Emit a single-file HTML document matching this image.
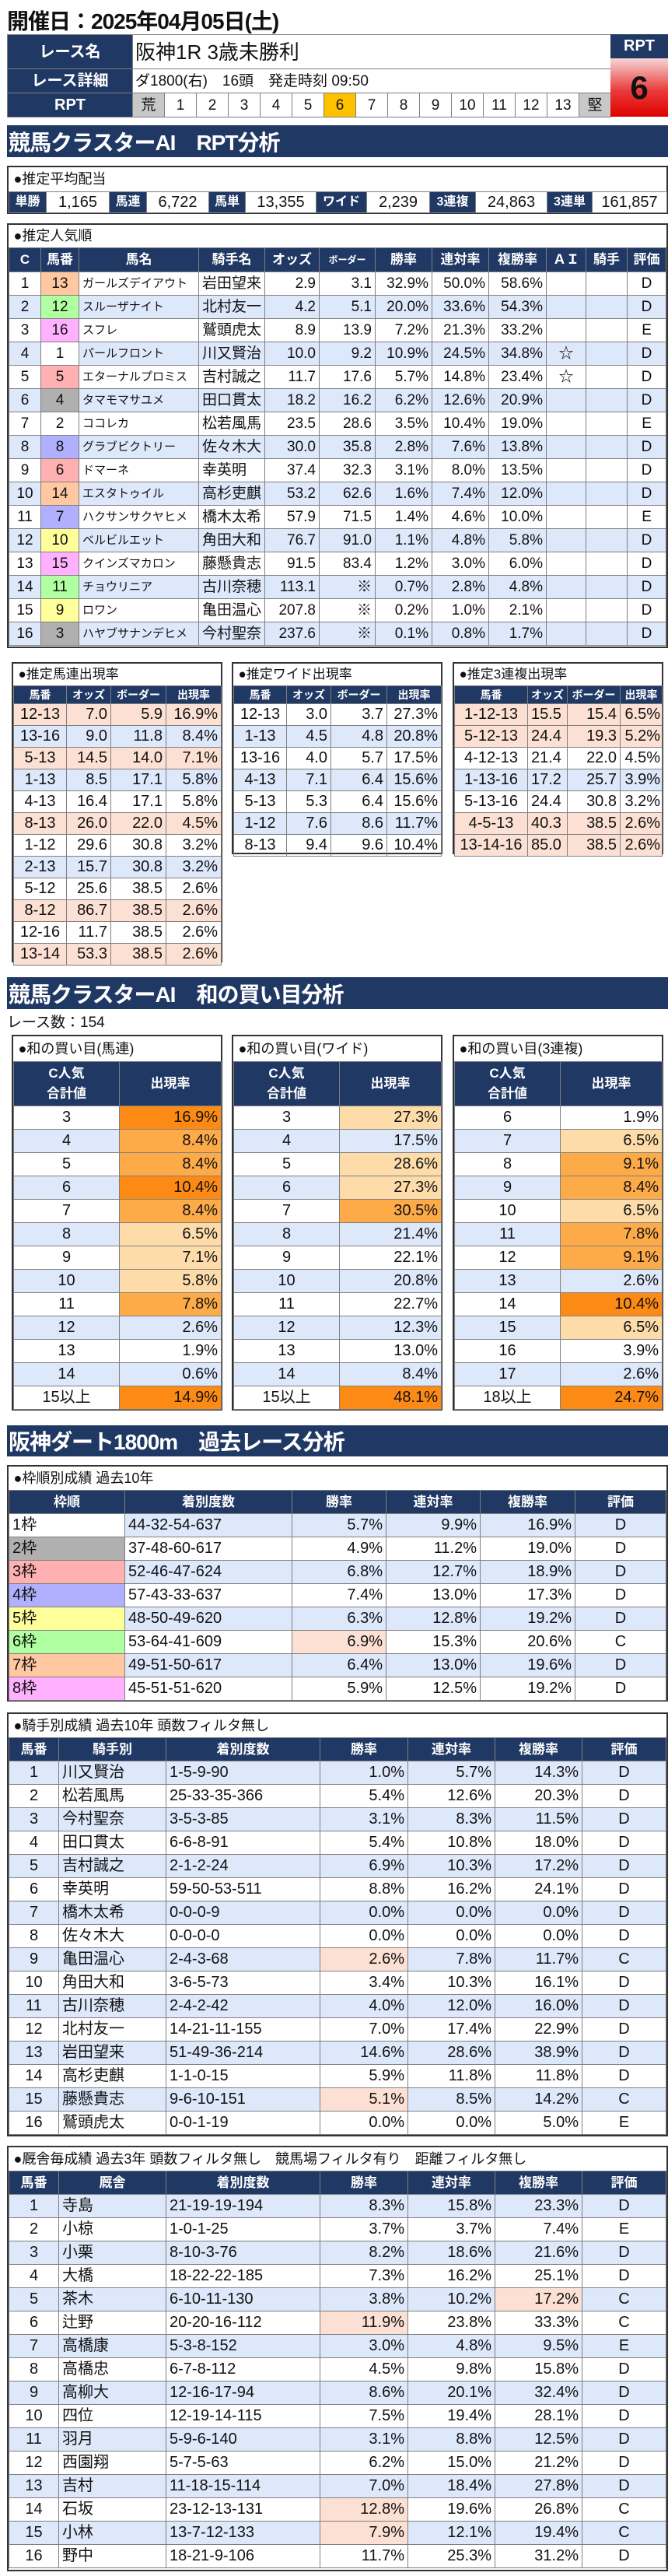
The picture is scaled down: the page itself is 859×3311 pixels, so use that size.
<!DOCTYPE html>
<html><head><meta charset="utf-8">
<style>
*{box-sizing:border-box}
body{margin:0;width:859px;height:3311px;position:relative;background:#fff;font-family:"Liberation Sans","Noto Sans CJK JP",sans-serif;color:#111;overflow:hidden}
.abs{position:absolute}
.box{position:absolute;border:2px solid #333;background:#fff}
table{border-collapse:collapse;width:100%;table-layout:fixed}
td{border:1px solid #7f7f7f;padding:0 4px;font-size:19px;white-space:nowrap;overflow:hidden;line-height:1}
.h td,td.h{background:#203864;color:#fff;font-weight:bold;text-align:center;font-size:16px}
.r{text-align:right}.c{text-align:center}.l{text-align:left}
.b td{background:#dde8fb}
.t td{border:none;border-bottom:1px solid #7f7f7f;font-size:18px;padding-left:6px}
td.p,.b td.p{background:#fce0d4}
tr.p td{background:#fce0d4}
.bar{position:absolute;left:9px;width:850px;background:#203864;color:#fff;font-weight:bold;font-size:28px;letter-spacing:-1px;padding-left:2px;display:flex;align-items:center}
.f1{background:#fff!important}.f2{background:#b0b0b0!important}.f3{background:#ffb0b0!important}.f4{background:#b0b0ff!important}
.f5{background:#ffff99!important}.f6{background:#b0ffa0!important}.f7{background:#ffc8a0!important}.f8{background:#ffb0ff!important}
.o1{background:#fd8a14!important}.o2{background:#fdaa48!important}.o3{background:#fddcaa!important}
.pop td{height:30px}
.mini td{height:28px;font-size:20px}
.mini .h td{font-size:14px;height:23px}
.mini .t td{font-size:17px}
.buy td{height:30px;font-size:20px}
.big td{height:30px;font-size:20px}
.buy .t td,.big .t td{font-size:18px}
</style></head><body>

<div class="abs" style="left:9px;top:6px;font-size:28px;font-weight:bold;letter-spacing:-1px">開催日：2025年04月05日(土)</div>

<div class="abs" style="left:9px;top:44px;width:776px">
<table style="height:106px">
<colgroup><col style="width:161px"><col span="15" style="width:41px"></colgroup>
<tr style="height:44px"><td class="h" style="font-size:20px">レース名</td><td colspan="15" style="font-size:26px;padding-left:3px">阪神1R 3歳未勝利</td></tr>
<tr style="height:31px"><td class="h" style="font-size:20px">レース詳細</td><td colspan="15" style="font-size:19px;padding-left:3px">ダ1800(右)　16頭　発走時刻 09:50</td></tr>
<tr style="height:31px"><td class="h" style="font-size:20px">RPT</td>
<td class="c" style="background:#c8c8c8">荒</td><td class="c">1</td><td class="c">2</td><td class="c">3</td><td class="c">4</td><td class="c">5</td><td class="c" style="background:#ffc000">6</td><td class="c">7</td><td class="c">8</td><td class="c">9</td><td class="c">10</td><td class="c">11</td><td class="c">12</td><td class="c">13</td><td class="c" style="background:#c8c8c8">堅</td></tr>
</table></div>
<div class="abs" style="left:785px;top:44px;width:74px;height:31px;background:#203864;color:#fff;font-weight:bold;font-size:20px;text-align:center;line-height:31px">RPT</div>
<div class="abs" style="left:785px;top:75px;width:74px;height:75px;background:linear-gradient(#f6d6d6,#ea3b3b 55%,#e00000);font-weight:bold;font-size:42px;text-align:center;line-height:75px">6</div>

<div class="bar" style="top:161px;height:41px">競馬クラスターAI　RPT分析</div>

<div class="box" style="left:9px;top:213px;width:850px;height:62px">
<table>
<colgroup><col style="width:48px"><col style="width:81px"><col style="width:48px"><col style="width:80px"><col style="width:47px"><col style="width:91px"><col style="width:65px"><col style="width:81px"><col style="width:59px"><col style="width:92px"><col style="width:58px"><col style="width:96px"></colgroup>
<tr class="t"><td colspan="12" style="height:31px">●推定平均配当</td></tr>
<tr style="height:27px"><td class="h">単勝</td><td class="c" style="font-size:20px">1,165</td><td class="h">馬連</td><td class="c" style="font-size:20px">6,722</td><td class="h">馬単</td><td class="c" style="font-size:20px">13,355</td><td class="h">ワイド</td><td class="c" style="font-size:20px">2,239</td><td class="h">3連複</td><td class="c" style="font-size:20px">24,863</td><td class="h">3連単</td><td class="c" style="font-size:20px">161,857</td></tr>
</table></div>

<div class="box pop" style="left:9px;top:287px;width:850px;height:546px">
<table>
<colgroup><col style="width:41px"><col style="width:49px"><col style="width:154px"><col style="width:85px"><col style="width:70px"><col style="width:72px"><col style="width:73px"><col style="width:73px"><col style="width:74px"><col style="width:51px"><col style="width:53px"><col style="width:50px"></colgroup>
<tr class="t"><td colspan="12" style="height:29px">●推定人気順</td></tr>
<tr class="h"><td style="height:31px;font-size:17px">C</td><td style="font-size:17px">馬番</td><td style="font-size:17px">馬名</td><td style="font-size:17px">騎手名</td><td style="font-size:17px">オッズ</td><td style="font-size:12px">ボーダー</td><td style="font-size:17px">勝率</td><td style="font-size:17px">連対率</td><td style="font-size:17px">複勝率</td><td style="font-size:17px">ＡＩ</td><td style="font-size:17px">騎手</td><td style="font-size:17px">評価</td></tr>
<tr><td class="c">1</td><td class="c f7">13</td><td style="font-size:15px">ガールズデイアウト</td><td>岩田望来</td><td class="r">2.9</td><td class="r">3.1</td><td class="r">32.9%</td><td class="r">50.0%</td><td class="r">58.6%</td><td></td><td></td><td class="c">D</td></tr>
<tr class="b"><td class="c">2</td><td class="c f6">12</td><td style="font-size:15px">スルーザナイト</td><td>北村友一</td><td class="r">4.2</td><td class="r">5.1</td><td class="r">20.0%</td><td class="r">33.6%</td><td class="r">54.3%</td><td></td><td></td><td class="c">D</td></tr>
<tr><td class="c">3</td><td class="c f8">16</td><td style="font-size:15px">スフレ</td><td>鷲頭虎太</td><td class="r">8.9</td><td class="r">13.9</td><td class="r">7.2%</td><td class="r">21.3%</td><td class="r">33.2%</td><td></td><td></td><td class="c">E</td></tr>
<tr class="b"><td class="c">4</td><td class="c f1">1</td><td style="font-size:15px">パールフロント</td><td>川又賢治</td><td class="r">10.0</td><td class="r">9.2</td><td class="r">10.9%</td><td class="r">24.5%</td><td class="r">34.8%</td><td class="c">☆</td><td></td><td class="c">D</td></tr>
<tr><td class="c">5</td><td class="c f3">5</td><td style="font-size:15px">エターナルプロミス</td><td>吉村誠之</td><td class="r">11.7</td><td class="r">17.6</td><td class="r">5.7%</td><td class="r">14.8%</td><td class="r">23.4%</td><td class="c">☆</td><td></td><td class="c">D</td></tr>
<tr class="b"><td class="c">6</td><td class="c f2">4</td><td style="font-size:15px">タマモマサユメ</td><td>田口貫太</td><td class="r">18.2</td><td class="r">16.2</td><td class="r">6.2%</td><td class="r">12.6%</td><td class="r">20.9%</td><td></td><td></td><td class="c">D</td></tr>
<tr><td class="c">7</td><td class="c f1">2</td><td style="font-size:15px">ココレカ</td><td>松若風馬</td><td class="r">23.5</td><td class="r">28.6</td><td class="r">3.5%</td><td class="r">10.4%</td><td class="r">19.0%</td><td></td><td></td><td class="c">E</td></tr>
<tr class="b"><td class="c">8</td><td class="c f4">8</td><td style="font-size:15px">グラブビクトリー</td><td>佐々木大</td><td class="r">30.0</td><td class="r">35.8</td><td class="r">2.8%</td><td class="r">7.6%</td><td class="r">13.8%</td><td></td><td></td><td class="c">D</td></tr>
<tr><td class="c">9</td><td class="c f3">6</td><td style="font-size:15px">ドマーネ</td><td>幸英明</td><td class="r">37.4</td><td class="r">32.3</td><td class="r">3.1%</td><td class="r">8.0%</td><td class="r">13.5%</td><td></td><td></td><td class="c">D</td></tr>
<tr class="b"><td class="c">10</td><td class="c f7">14</td><td style="font-size:15px">エスタトゥイル</td><td>高杉吏麒</td><td class="r">53.2</td><td class="r">62.6</td><td class="r">1.6%</td><td class="r">7.4%</td><td class="r">12.0%</td><td></td><td></td><td class="c">D</td></tr>
<tr><td class="c">11</td><td class="c f4">7</td><td style="font-size:15px">ハクサンサクヤヒメ</td><td>橋木太希</td><td class="r">57.9</td><td class="r">71.5</td><td class="r">1.4%</td><td class="r">4.6%</td><td class="r">10.0%</td><td></td><td></td><td class="c">E</td></tr>
<tr class="b"><td class="c">12</td><td class="c f5">10</td><td style="font-size:15px">ベルビルエット</td><td>角田大和</td><td class="r">76.7</td><td class="r">91.0</td><td class="r">1.1%</td><td class="r">4.8%</td><td class="r">5.8%</td><td></td><td></td><td class="c">D</td></tr>
<tr><td class="c">13</td><td class="c f8">15</td><td style="font-size:15px">クインズマカロン</td><td>藤懸貴志</td><td class="r">91.5</td><td class="r">83.4</td><td class="r">1.2%</td><td class="r">3.0%</td><td class="r">6.0%</td><td></td><td></td><td class="c">D</td></tr>
<tr class="b"><td class="c">14</td><td class="c f6">11</td><td style="font-size:15px">チョウリニア</td><td>古川奈穂</td><td class="r">113.1</td><td class="r">※</td><td class="r">0.7%</td><td class="r">2.8%</td><td class="r">4.8%</td><td></td><td></td><td class="c">D</td></tr>
<tr><td class="c">15</td><td class="c f5">9</td><td style="font-size:15px">ロワン</td><td>亀田温心</td><td class="r">207.8</td><td class="r">※</td><td class="r">0.2%</td><td class="r">1.0%</td><td class="r">2.1%</td><td></td><td></td><td class="c">D</td></tr>
<tr class="b"><td class="c">16</td><td class="c f2">3</td><td style="font-size:15px">ハヤブサナンデヒメ</td><td>今村聖奈</td><td class="r">237.6</td><td class="r">※</td><td class="r">0.1%</td><td class="r">0.8%</td><td class="r">1.7%</td><td></td><td></td><td class="c">D</td></tr>
</table></div>

<div class="box mini" style="left:15px;top:851px;width:271px;height:386px">
<table><colgroup><col style="width:68px"><col style="width:57px"><col style="width:71px"><col style="width:71px"></colgroup>
<tr class="t"><td colspan="4">●推定馬連出現率</td></tr>
<tr class="h"><td>馬番</td><td>オッズ</td><td>ボーダー</td><td>出現率</td></tr>
<tr class="p"><td class="c">12-13</td><td class="r">7.0</td><td class="r">5.9</td><td class="r">16.9%</td></tr>
<tr class="b"><td class="c">13-16</td><td class="r">9.0</td><td class="r">11.8</td><td class="r">8.4%</td></tr>
<tr class="p"><td class="c">5-13</td><td class="r">14.5</td><td class="r">14.0</td><td class="r">7.1%</td></tr>
<tr class="b"><td class="c">1-13</td><td class="r">8.5</td><td class="r">17.1</td><td class="r">5.8%</td></tr>
<tr><td class="c">4-13</td><td class="r">16.4</td><td class="r">17.1</td><td class="r">5.8%</td></tr>
<tr class="p"><td class="c">8-13</td><td class="r">26.0</td><td class="r">22.0</td><td class="r">4.5%</td></tr>
<tr><td class="c">1-12</td><td class="r">29.6</td><td class="r">30.8</td><td class="r">3.2%</td></tr>
<tr class="b"><td class="c">2-13</td><td class="r">15.7</td><td class="r">30.8</td><td class="r">3.2%</td></tr>
<tr><td class="c">5-12</td><td class="r">25.6</td><td class="r">38.5</td><td class="r">2.6%</td></tr>
<tr class="p"><td class="c">8-12</td><td class="r">86.7</td><td class="r">38.5</td><td class="r">2.6%</td></tr>
<tr><td class="c">12-16</td><td class="r">11.7</td><td class="r">38.5</td><td class="r">2.6%</td></tr>
<tr class="p"><td class="c">13-14</td><td class="r">53.3</td><td class="r">38.5</td><td class="r">2.6%</td></tr>
</table></div>

<div class="box mini" style="left:298px;top:851px;width:271px;height:247px">
<table><colgroup><col style="width:68px"><col style="width:57px"><col style="width:72px"><col style="width:70px"></colgroup>
<tr class="t"><td colspan="4">●推定ワイド出現率</td></tr>
<tr class="h"><td>馬番</td><td>オッズ</td><td>ボーダー</td><td>出現率</td></tr>
<tr><td class="c">12-13</td><td class="r">3.0</td><td class="r">3.7</td><td class="r">27.3%</td></tr>
<tr class="b"><td class="c">1-13</td><td class="r">4.5</td><td class="r">4.8</td><td class="r">20.8%</td></tr>
<tr><td class="c">13-16</td><td class="r">4.0</td><td class="r">5.7</td><td class="r">17.5%</td></tr>
<tr class="b"><td class="c">4-13</td><td class="r">7.1</td><td class="r">6.4</td><td class="r">15.6%</td></tr>
<tr><td class="c">5-13</td><td class="r">5.3</td><td class="r">6.4</td><td class="r">15.6%</td></tr>
<tr class="b"><td class="c">1-12</td><td class="r">7.6</td><td class="r">8.6</td><td class="r">11.7%</td></tr>
<tr><td class="c">8-13</td><td class="r">9.4</td><td class="r">9.6</td><td class="r">10.4%</td></tr>
</table></div>

<div class="box mini" style="left:582px;top:851px;width:271px;height:247px">
<table><colgroup><col style="width:94px"><col style="width:51px"><col style="width:68px"><col style="width:54px"></colgroup>
<tr class="t"><td colspan="4">●推定3連複出現率</td></tr>
<tr class="h"><td>馬番</td><td>オッズ</td><td>ボーダー</td><td>出現率</td></tr>
<tr class="p"><td class="c">1-12-13</td><td>15.5</td><td class="r">15.4</td><td class="r" style="padding:0 2px">6.5%</td></tr>
<tr class="p"><td class="c">5-12-13</td><td>24.4</td><td class="r">19.3</td><td class="r" style="padding:0 2px">5.2%</td></tr>
<tr><td class="c">4-12-13</td><td>21.4</td><td class="r">22.0</td><td class="r" style="padding:0 2px">4.5%</td></tr>
<tr class="b"><td class="c">1-13-16</td><td>17.2</td><td class="r">25.7</td><td class="r" style="padding:0 2px">3.9%</td></tr>
<tr><td class="c">5-13-16</td><td>24.4</td><td class="r">30.8</td><td class="r" style="padding:0 2px">3.2%</td></tr>
<tr class="p"><td class="c">4-5-13</td><td>40.3</td><td class="r">38.5</td><td class="r" style="padding:0 2px">2.6%</td></tr>
<tr class="p"><td class="c">13-14-16</td><td>85.0</td><td class="r">38.5</td><td class="r" style="padding:0 2px">2.6%</td></tr>
</table></div>

<div class="bar" style="top:1256px;height:41px">競馬クラスターAI　和の買い目分析</div>
<div class="abs" style="left:9px;top:1299px;font-size:19px">レース数：154</div>

<div class="box buy" style="left:15px;top:1330px;width:271px;height:483px">
<table><colgroup><col style="width:136px"><col style="width:131px"></colgroup>
<tr class="t"><td colspan="2" style="height:32px">●和の買い目(馬連)</td></tr>
<tr class="h"><td style="height:57px;line-height:1.5;font-size:17px">C人気<br>合計値</td><td style="font-size:17px">出現率</td></tr>
<tr><td class="c">3</td><td class="r o1">16.9%</td></tr>
<tr class="b"><td class="c">4</td><td class="r o2">8.4%</td></tr>
<tr><td class="c">5</td><td class="r o2">8.4%</td></tr>
<tr class="b"><td class="c">6</td><td class="r o1">10.4%</td></tr>
<tr><td class="c">7</td><td class="r o2">8.4%</td></tr>
<tr class="b"><td class="c">8</td><td class="r o3">6.5%</td></tr>
<tr><td class="c">9</td><td class="r o3">7.1%</td></tr>
<tr class="b"><td class="c">10</td><td class="r o3">5.8%</td></tr>
<tr><td class="c">11</td><td class="r o2">7.8%</td></tr>
<tr class="b"><td class="c">12</td><td class="r">2.6%</td></tr>
<tr><td class="c">13</td><td class="r">1.9%</td></tr>
<tr class="b"><td class="c">14</td><td class="r">0.6%</td></tr>
<tr><td class="c">15以上</td><td class="r o1">14.9%</td></tr>
</table></div>

<div class="box buy" style="left:298px;top:1330px;width:271px;height:483px">
<table><colgroup><col style="width:136px"><col style="width:131px"></colgroup>
<tr class="t"><td colspan="2" style="height:32px">●和の買い目(ワイド)</td></tr>
<tr class="h"><td style="height:57px;line-height:1.5;font-size:17px">C人気<br>合計値</td><td style="font-size:17px">出現率</td></tr>
<tr><td class="c">3</td><td class="r o3">27.3%</td></tr>
<tr class="b"><td class="c">4</td><td class="r">17.5%</td></tr>
<tr><td class="c">5</td><td class="r o3">28.6%</td></tr>
<tr class="b"><td class="c">6</td><td class="r o3">27.3%</td></tr>
<tr><td class="c">7</td><td class="r o2">30.5%</td></tr>
<tr class="b"><td class="c">8</td><td class="r">21.4%</td></tr>
<tr><td class="c">9</td><td class="r">22.1%</td></tr>
<tr class="b"><td class="c">10</td><td class="r">20.8%</td></tr>
<tr><td class="c">11</td><td class="r">22.7%</td></tr>
<tr class="b"><td class="c">12</td><td class="r">12.3%</td></tr>
<tr><td class="c">13</td><td class="r">13.0%</td></tr>
<tr class="b"><td class="c">14</td><td class="r">8.4%</td></tr>
<tr><td class="c">15以上</td><td class="r o1">48.1%</td></tr>
</table></div>

<div class="box buy" style="left:582px;top:1330px;width:271px;height:483px">
<table><colgroup><col style="width:136px"><col style="width:131px"></colgroup>
<tr class="t"><td colspan="2" style="height:32px">●和の買い目(3連複)</td></tr>
<tr class="h"><td style="height:57px;line-height:1.5;font-size:17px">C人気<br>合計値</td><td style="font-size:17px">出現率</td></tr>
<tr><td class="c">6</td><td class="r">1.9%</td></tr>
<tr class="b"><td class="c">7</td><td class="r o3">6.5%</td></tr>
<tr><td class="c">8</td><td class="r o2">9.1%</td></tr>
<tr class="b"><td class="c">9</td><td class="r o2">8.4%</td></tr>
<tr><td class="c">10</td><td class="r o3">6.5%</td></tr>
<tr class="b"><td class="c">11</td><td class="r o2">7.8%</td></tr>
<tr><td class="c">12</td><td class="r o2">9.1%</td></tr>
<tr class="b"><td class="c">13</td><td class="r">2.6%</td></tr>
<tr><td class="c">14</td><td class="r o1">10.4%</td></tr>
<tr class="b"><td class="c">15</td><td class="r o3">6.5%</td></tr>
<tr><td class="c">16</td><td class="r">3.9%</td></tr>
<tr class="b"><td class="c">17</td><td class="r">2.6%</td></tr>
<tr><td class="c">18以上</td><td class="r o1">24.7%</td></tr>
</table></div>

<div class="bar" style="top:1832px;height:40px">阪神ダート1800m　過去レース分析</div>

<div class="box big" style="left:9px;top:1883px;width:850px;height:304px">
<table><colgroup><col style="width:149px"><col style="width:215px"><col style="width:121px"><col style="width:121px"><col style="width:122px"><col style="width:117px"></colgroup>
<tr class="t"><td colspan="6">●枠順別成績 過去10年</td></tr>
<tr class="h"><td style="font-size:17px">枠順</td><td style="font-size:17px">着別度数</td><td style="font-size:17px">勝率</td><td style="font-size:17px">連対率</td><td style="font-size:17px">複勝率</td><td style="font-size:17px">評価</td></tr>
<tr class="b"><td class="f1">1枠</td><td>44-32-54-637</td><td class="r">5.7%</td><td class="r">9.9%</td><td class="r">16.9%</td><td class="c">D</td></tr>
<tr><td class="f2">2枠</td><td>37-48-60-617</td><td class="r">4.9%</td><td class="r">11.2%</td><td class="r">19.0%</td><td class="c">D</td></tr>
<tr class="b"><td class="f3">3枠</td><td>52-46-47-624</td><td class="r">6.8%</td><td class="r">12.7%</td><td class="r">18.9%</td><td class="c">D</td></tr>
<tr><td class="f4">4枠</td><td>57-43-33-637</td><td class="r">7.4%</td><td class="r">13.0%</td><td class="r">17.3%</td><td class="c">D</td></tr>
<tr class="b"><td class="f5">5枠</td><td>48-50-49-620</td><td class="r">6.3%</td><td class="r">12.8%</td><td class="r">19.2%</td><td class="c">D</td></tr>
<tr><td class="f6">6枠</td><td>53-64-41-609</td><td class="r p">6.9%</td><td class="r">15.3%</td><td class="r">20.6%</td><td class="c">C</td></tr>
<tr class="b"><td class="f7">7枠</td><td>49-51-50-617</td><td class="r">6.4%</td><td class="r">13.0%</td><td class="r">19.6%</td><td class="c">D</td></tr>
<tr><td class="f8">8枠</td><td>45-51-51-620</td><td class="r">5.9%</td><td class="r">12.5%</td><td class="r">19.2%</td><td class="c">D</td></tr>
</table></div>

<div class="box big" style="left:9px;top:2201px;width:850px;height:545px">
<table><colgroup><col style="width:64px"><col style="width:138px"><col style="width:198px"><col style="width:113px"><col style="width:112px"><col style="width:112px"><col style="width:108px"></colgroup>
<tr class="t"><td colspan="7">●騎手別成績 過去10年 頭数フィルタ無し</td></tr>
<tr class="h"><td style="font-size:17px">馬番</td><td style="font-size:17px">騎手別</td><td style="font-size:17px">着別度数</td><td style="font-size:17px">勝率</td><td style="font-size:17px">連対率</td><td style="font-size:17px">複勝率</td><td style="font-size:17px">評価</td></tr>
<tr class="b"><td class="c">1</td><td>川又賢治</td><td>1-5-9-90</td><td class="r">1.0%</td><td class="r">5.7%</td><td class="r">14.3%</td><td class="c">D</td></tr>
<tr><td class="c">2</td><td>松若風馬</td><td>25-33-35-366</td><td class="r">5.4%</td><td class="r">12.6%</td><td class="r">20.3%</td><td class="c">D</td></tr>
<tr class="b"><td class="c">3</td><td>今村聖奈</td><td>3-5-3-85</td><td class="r">3.1%</td><td class="r">8.3%</td><td class="r">11.5%</td><td class="c">D</td></tr>
<tr><td class="c">4</td><td>田口貫太</td><td>6-6-8-91</td><td class="r">5.4%</td><td class="r">10.8%</td><td class="r">18.0%</td><td class="c">D</td></tr>
<tr class="b"><td class="c">5</td><td>吉村誠之</td><td>2-1-2-24</td><td class="r">6.9%</td><td class="r">10.3%</td><td class="r">17.2%</td><td class="c">D</td></tr>
<tr><td class="c">6</td><td>幸英明</td><td>59-50-53-511</td><td class="r">8.8%</td><td class="r">16.2%</td><td class="r">24.1%</td><td class="c">D</td></tr>
<tr class="b"><td class="c">7</td><td>橋木太希</td><td>0-0-0-9</td><td class="r">0.0%</td><td class="r">0.0%</td><td class="r">0.0%</td><td class="c">D</td></tr>
<tr><td class="c">8</td><td>佐々木大</td><td>0-0-0-0</td><td class="r">0.0%</td><td class="r">0.0%</td><td class="r">0.0%</td><td class="c">D</td></tr>
<tr class="b"><td class="c">9</td><td>亀田温心</td><td>2-4-3-68</td><td class="r p">2.6%</td><td class="r">7.8%</td><td class="r">11.7%</td><td class="c">C</td></tr>
<tr><td class="c">10</td><td>角田大和</td><td>3-6-5-73</td><td class="r">3.4%</td><td class="r">10.3%</td><td class="r">16.1%</td><td class="c">D</td></tr>
<tr class="b"><td class="c">11</td><td>古川奈穂</td><td>2-4-2-42</td><td class="r">4.0%</td><td class="r">12.0%</td><td class="r">16.0%</td><td class="c">D</td></tr>
<tr><td class="c">12</td><td>北村友一</td><td>14-21-11-155</td><td class="r">7.0%</td><td class="r">17.4%</td><td class="r">22.9%</td><td class="c">D</td></tr>
<tr class="b"><td class="c">13</td><td>岩田望来</td><td>51-49-36-214</td><td class="r">14.6%</td><td class="r">28.6%</td><td class="r">38.9%</td><td class="c">D</td></tr>
<tr><td class="c">14</td><td>高杉吏麒</td><td>1-1-0-15</td><td class="r">5.9%</td><td class="r">11.8%</td><td class="r">11.8%</td><td class="c">D</td></tr>
<tr class="b"><td class="c">15</td><td>藤懸貴志</td><td>9-6-10-151</td><td class="r p">5.1%</td><td class="r">8.5%</td><td class="r">14.2%</td><td class="c">C</td></tr>
<tr><td class="c">16</td><td>鷲頭虎太</td><td>0-0-1-19</td><td class="r">0.0%</td><td class="r">0.0%</td><td class="r">5.0%</td><td class="c">E</td></tr>
</table></div>

<div class="box big" style="left:9px;top:2758px;width:850px;height:547px">
<table><colgroup><col style="width:64px"><col style="width:138px"><col style="width:198px"><col style="width:113px"><col style="width:112px"><col style="width:112px"><col style="width:108px"></colgroup>
<tr class="t"><td colspan="7">●厩舎毎成績 過去3年 頭数フィルタ無し　競馬場フィルタ有り　距離フィルタ無し</td></tr>
<tr class="h"><td style="font-size:17px">馬番</td><td style="font-size:17px">厩舎</td><td style="font-size:17px">着別度数</td><td style="font-size:17px">勝率</td><td style="font-size:17px">連対率</td><td style="font-size:17px">複勝率</td><td style="font-size:17px">評価</td></tr>
<tr class="b"><td class="c">1</td><td>寺島</td><td>21-19-19-194</td><td class="r">8.3%</td><td class="r">15.8%</td><td class="r">23.3%</td><td class="c">D</td></tr>
<tr><td class="c">2</td><td>小椋</td><td>1-0-1-25</td><td class="r">3.7%</td><td class="r">3.7%</td><td class="r">7.4%</td><td class="c">E</td></tr>
<tr class="b"><td class="c">3</td><td>小栗</td><td>8-10-3-76</td><td class="r">8.2%</td><td class="r">18.6%</td><td class="r">21.6%</td><td class="c">D</td></tr>
<tr><td class="c">4</td><td>大橋</td><td>18-22-22-185</td><td class="r">7.3%</td><td class="r">16.2%</td><td class="r">25.1%</td><td class="c">D</td></tr>
<tr class="b"><td class="c">5</td><td>茶木</td><td>6-10-11-130</td><td class="r">3.8%</td><td class="r">10.2%</td><td class="r p">17.2%</td><td class="c">C</td></tr>
<tr><td class="c">6</td><td>辻野</td><td>20-20-16-112</td><td class="r p">11.9%</td><td class="r">23.8%</td><td class="r">33.3%</td><td class="c">C</td></tr>
<tr class="b"><td class="c">7</td><td>高橋康</td><td>5-3-8-152</td><td class="r">3.0%</td><td class="r">4.8%</td><td class="r">9.5%</td><td class="c">E</td></tr>
<tr><td class="c">8</td><td>高橋忠</td><td>6-7-8-112</td><td class="r">4.5%</td><td class="r">9.8%</td><td class="r">15.8%</td><td class="c">D</td></tr>
<tr class="b"><td class="c">9</td><td>高柳大</td><td>12-16-17-94</td><td class="r">8.6%</td><td class="r">20.1%</td><td class="r">32.4%</td><td class="c">D</td></tr>
<tr><td class="c">10</td><td>四位</td><td>12-19-14-115</td><td class="r">7.5%</td><td class="r">19.4%</td><td class="r">28.1%</td><td class="c">D</td></tr>
<tr class="b"><td class="c">11</td><td>羽月</td><td>5-9-6-140</td><td class="r">3.1%</td><td class="r">8.8%</td><td class="r">12.5%</td><td class="c">D</td></tr>
<tr><td class="c">12</td><td>西園翔</td><td>5-7-5-63</td><td class="r">6.2%</td><td class="r">15.0%</td><td class="r">21.2%</td><td class="c">D</td></tr>
<tr class="b"><td class="c">13</td><td>吉村</td><td>11-18-15-114</td><td class="r">7.0%</td><td class="r">18.4%</td><td class="r">27.8%</td><td class="c">D</td></tr>
<tr><td class="c">14</td><td>石坂</td><td>23-12-13-131</td><td class="r p">12.8%</td><td class="r">19.6%</td><td class="r">26.8%</td><td class="c">C</td></tr>
<tr class="b"><td class="c">15</td><td>小林</td><td>13-7-12-133</td><td class="r p">7.9%</td><td class="r">12.1%</td><td class="r">19.4%</td><td class="c">C</td></tr>
<tr><td class="c">16</td><td>野中</td><td>18-21-9-106</td><td class="r">11.7%</td><td class="r">25.3%</td><td class="r">31.2%</td><td class="c">D</td></tr>
</table></div>

</body></html>
